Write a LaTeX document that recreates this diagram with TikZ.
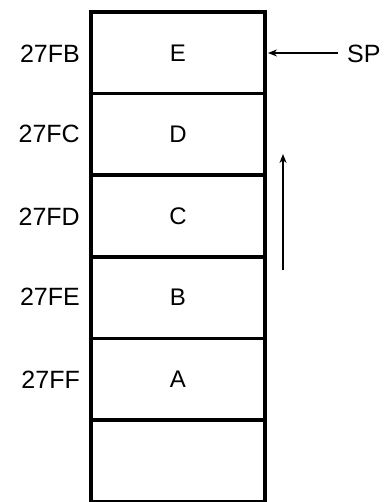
\documentclass[tikz,border=0pt]{standalone}
\usepackage{fontspec}
\setmainfont{Liberation Sans}
\usetikzlibrary{arrows.meta}
\begin{document}
\begin{tikzpicture}[x=1pt,y=-1pt,
  cell/.style={draw, line width=3.4pt, minimum width=174pt, minimum height=81.6pt, inner sep=0pt, outer sep=0pt, font=\fontsize{24}{24}\selectfont},
  addr/.style={anchor=east, inner sep=0pt, font=\fontsize{25}{25}\selectfont},
  lbl/.style={anchor=west, inner sep=0pt, font=\fontsize{25}{25}\selectfont},
  ptr/.style={line width=2.2pt, -{Stealth[length=9pt,width=7pt]}}]
\useasboundingbox (0,0) rectangle (383,502);
\node[cell] (e) at (178,52.8) {E};
\node[cell] (d) at (178,134.4) {D};
\node[cell] (c) at (178,216) {C};
\node[cell] (b) at (178,297.6) {B};
\node[cell] (a) at (178,379.2) {A};
\node[cell] (f) at (178,460.8) {};
\node[addr] (l1) at (80,54) {27FB};
\node[addr] (l2) at (80,134) {27FC};
\node[addr] (l3) at (80,217) {27FD};
\node[addr] (l4) at (80,297) {27FE};
\node[addr] (l5) at (80,380) {27FF};
\node[lbl] (sp) at (347,54) {SP};
\coordinate (spt) at (338,53);
\coordinate (spe) at (268,53);
\draw[ptr] (spt) -- (spe);
\coordinate (u1) at (283,270);
\coordinate (u2) at (283,154);
\draw[ptr] (u1) -- (u2);
\end{tikzpicture}
\end{document}
